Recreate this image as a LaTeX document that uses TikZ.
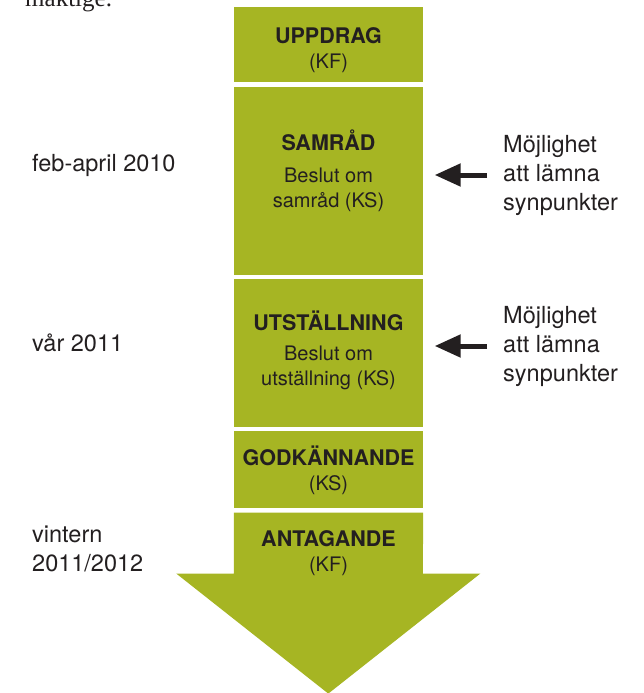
\documentclass[tikz,border=0pt]{standalone}
\usepackage{fontspec}
\setmainfont{TeX Gyre Heros}
\newfontfamily\brodtext{Liberation Serif}
\usepackage{xcolor}
\usetikzlibrary{positioning,arrows.meta}
\definecolor{gron}{HTML}{A6B523}
\definecolor{svart}{HTML}{231F20}
\pgfdeclarelayer{bg}
\pgfsetlayers{bg,main}
\newcommand\rubrik[1]{{\bfseries\fontsize{21.5}{26}\selectfont #1}}

\begin{document}
\begin{tikzpicture}[x=1pt,y=1pt,node distance=4pt]
			\tikzstyle{every node}=[text=svart]
			\tikzstyle{fas}=[fill=gron,minimum width=189pt,align=center,inner sep=0pt,font=\fontsize{20}{25}\selectfont]
			\tikzstyle{sida}=[anchor=west,align=left,inner sep=0pt,font=\fontsize{23.5}{29}\selectfont]
			\tikzstyle{pil}=[-{Triangle[length=26pt,width=22pt]},line width=5pt,draw=svart,shorten <=16pt,shorten >=11.5pt]
			\useasboundingbox (0,0) rectangle (643,-693);
			\node[anchor=base west,inner sep=0pt,font=\brodtext\fontsize{25}{30}\selectfont] (M) at (25,-7) {mäktige.};
			\node[fas,minimum height=75pt,anchor=north] (U) at (328.5,-7) {\rule{0pt}{27pt}\rubrik{UPPDRAG}\\(KF)};
			\node[fas,minimum height=188pt,below=of U] (S) {\rubrik{SAMRÅD}\\[7pt]Beslut om\\samråd (KS)\rule[-24pt]{0pt}{24pt}};
			\node[fas,minimum height=148pt,below=of S] (UT) {\rubrik{UTSTÄLLNING}\\[5pt]Beslut om\\utställning (KS)\rule[-9pt]{0pt}{9pt}};
			\node[fas,minimum height=77pt,below=of UT] (G) {\rubrik{GODKÄNNANDE}\\(KS)};
			\node[fas,fill=none,minimum height=80pt,below=of G] (A) {\rubrik{ANTAGANDE}\\(KF)};
			\begin{pgfonlayer}{bg}
			\fill[gron] (A.north west) -- ++(0,-61) -- ++(-57.5,0) -- ++(152,-120) -- ++(152,120) -- ++(-57.5,0) -- (A.north east) -- cycle;
			\end{pgfonlayer}
			\node[sida] (F) at (32,-165) {feb-april 2010};
			\node[sida] (V) at (32,-343) {vår 2011};
			\node[sida] (W) at (32,-549) {vintern\\2011/2012};
			\node[sida] (O1) at (503,-175) {Möjlighet\\att lämna\\synpunkter};
			\node[sida] (O2) at (503,-346) {Möjlighet\\att lämna\\synpunkter};
			\draw[pil] (O1.west) -- (O1.west -| S.east);
			\draw[pil] (O2.west) -- (O2.west -| UT.east);
		\end{tikzpicture}
\end{document}
